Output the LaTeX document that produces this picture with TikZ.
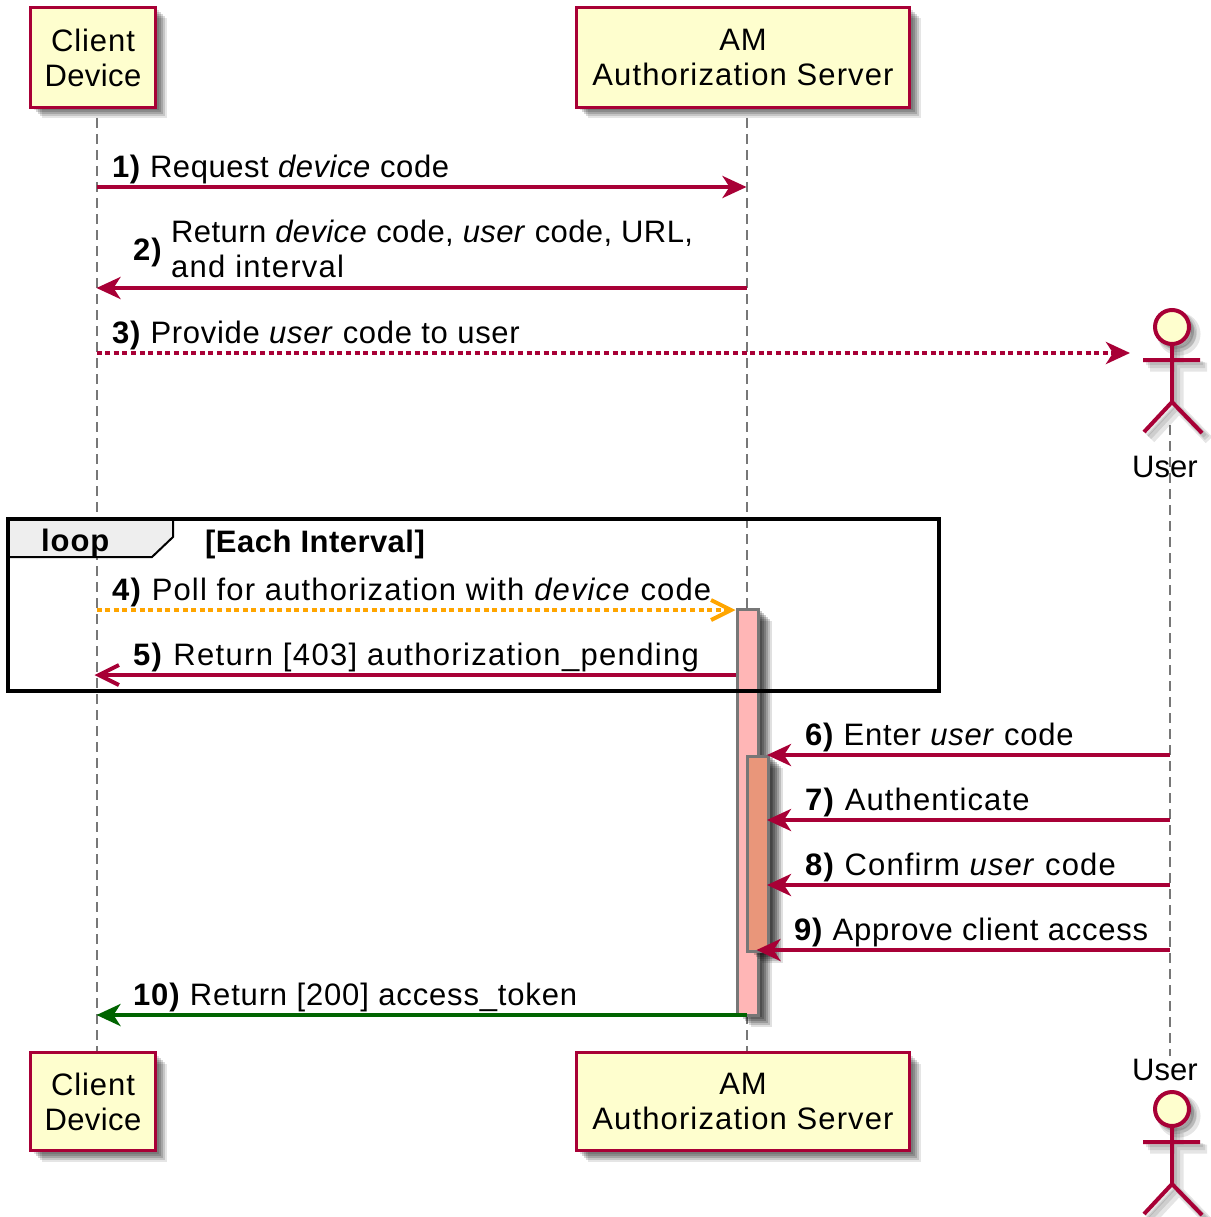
\documentclass[tikz,border=0pt]{standalone}
\usepackage{fontspec}
\setmainfont{Liberation Sans}[LetterSpace=3]
\usetikzlibrary{positioning,arrows.meta}
\definecolor{umlred}{HTML}{A80036}
\definecolor{umlfill}{HTML}{FEFECE}
\definecolor{umlgray}{HTML}{777777}
\definecolor{barpink}{HTML}{FFB6B6}
\definecolor{barsalmon}{HTML}{E9967A}
\definecolor{framegray}{HTML}{EEEEEE}
\definecolor{pollorange}{HTML}{FFA500}
\definecolor{tokengreen}{HTML}{006400}
\newcommand{\ls}[1]{\addfontfeature{LetterSpace=#1}}
% stacked rectangles give the soft shadows
\newcommand{\softshadow}[4]{
  \foreach \s/\o in {11/.1,9/.14,7/.16,5/.16,3/.12} {
    \fill[black,opacity=\o] (#1+\s,#2+\s) rectangle (#3+\s,#4+\s);
  }
}
\newcommand{\barshadow}[4]{
  \foreach \s/\o in {14/.12,12/.16,10/.18,8/.2,6/.2,4/.2} {
    \fill[black,opacity=\o] (#1+\s,#2+\s-2) rectangle (#3+\s,#4+\s-2);
  }
}
\tikzset{
  party/.style={draw=umlred,fill=umlfill,line width=3pt,inner sep=0pt,align=center,
    font=\fontsize{31}{35}\selectfont},
  lifeline/.style={draw=umlgray,line width=2pt,dash pattern=on 10pt off 6pt},
  bar/.style={draw=umlgray,line width=3pt,minimum width=21pt,inner sep=0pt},
  msg/.style={draw=umlred,line width=4pt,-{Stealth[length=24pt,width=22pt,inset=7pt]}},
  openmsg/.style={line width=4pt,-{Straight Barb[length=20pt,width=20pt,line width=4pt]}},
  dots/.style={line width=4.5pt,dash pattern=on 5pt off 3.6pt},
  msgtext/.style={anchor=base west,inner sep=0pt,font=\fontsize{31}{35}\selectfont\ls{#1}},
  msgtext/.default=3,
  actorfig/.pic={
    \draw[pic actions] (0,0) circle (17);
    \draw[pic actions,fill=none] (0,17) -- (0,75) (-29,33) -- (28,33)
      (-28,105) -- (0,75) -- (30,106);
  }
}
\begin{document}
\begin{tikzpicture}[x=1pt,y=-1pt]
  \useasboundingbox (0,0) rectangle (1210,1217);
  % message heights on each lifeline
  \foreach \n/\y in {1/187,2/288,3/353,4/610,5/675,6/755,7/820,8/885,9/950,10/1015} {
    \coordinate (c\n) at (96.5,\y);
    \coordinate (s\n) at (746.5,\y);
    \coordinate (u\n) at (1170,\y);
  }
  % lifelines
  \coordinate (clientStart) at (96.5,118);
  \coordinate (clientEnd) at (96.5,1052);
  \coordinate (serverStart) at (746.5,118);
  \coordinate (serverEnd) at (746.5,1052);
  \coordinate (userStart) at (1170,425);
  \coordinate (userEnd) at (1170,1056);
  \draw[lifeline] (clientStart) -- (clientEnd);
  \draw[lifeline] (serverStart) -- (serverEnd);
  \draw[lifeline] (userStart) -- (userEnd);
  % participants
  \foreach \y/\h/\t in {57.5/100/Top,1101.5/98/Bot} {
    \softshadow{30.5}{\y-\h/2}{155.5}{\y+\h/2}
    \softshadow{576.5}{\y-\h/2}{909.5}{\y+\h/2}
    \node[party,minimum width=125pt,minimum height=\h pt] (client\t) at (93,\y) {Client\\{\ls{1.4}Device}};
    \node[party,minimum width=333pt,minimum height=\h pt] (server\t) at (743,\y) {AM\\{\ls{3.65}Authorization Server}};
  }
  % user figures
  \foreach \s/\w in {7/9,5/6,3/4} {
    \pic[draw=black,fill=black,line width=\w pt,opacity=.1] at (1172+\s,327+\s) {actorfig};
    \pic[draw=black,fill=black,line width=\w pt,opacity=.1] at (1172+\s,1109+\s) {actorfig};
  }
  \pic[draw=umlred,fill=umlfill,line width=4pt] at (1172,327) {actorfig};
  \pic[draw=umlred,fill=umlfill,line width=4pt] at (1172,1109) {actorfig};
  \node[msgtext=0] (userTop) at (1132,477) {User};
  \node[msgtext=0] (userBot) at (1132,1080) {User};
  % activation bars
  \barshadow{737}{609}{758}{1015}
  \node[bar,fill=barpink,minimum height=406pt] (outerBar) at (747.5,812) {};
  \barshadow{747.5}{756}{768.5}{951}
  \node[bar,fill=barsalmon,minimum height=195pt] (innerBar) at (758,853.5) {};
  % loop frame
  \coordinate (frameA) at (8,519);
  \coordinate (frameB) at (939,691);
  \coordinate (tabA) at (173,519);
  \coordinate (tabB) at (173,537);
  \coordinate (tabC) at (152,557);
  \coordinate (tabD) at (8,557);
  \fill[framegray] (frameA) -- (tabA) -- (tabB) -- (tabC) -- (tabD) -- cycle;
  \draw[line width=2pt] (tabA) -- (tabB) -- (tabC) -- (tabD);
  \draw[line width=4pt] (frameA) rectangle (frameB);
  \node[msgtext] (loopName) at (41,551) {\textbf{loop}};
  \node[msgtext=1.5] (loopCond) at (205,552) {\textbf{[Each Interval]}};
  % messages
  \draw[msg] (c1) -- (s1);
  \draw[msg] (s2) -- (c2);
  \coordinate (actorGap) at (1130,353);
  \draw[msg,dots] (c3) -- (actorGap);
  \draw[openmsg,draw=pollorange,dots] (c4) -- (c4 -| outerBar.west);
  \draw[openmsg,draw=umlred,shorten >=-2pt] (c5 -| outerBar.west) -- (c5);
  \draw[msg,shorten >=-3pt] (u6) -- (u6 -| innerBar.east);
  \draw[msg,shorten >=-3pt] (u7) -- (u7 -| innerBar.east);
  \draw[msg,shorten >=-3pt] (u8) -- (u8 -| innerBar.east);
  \draw[msg,shorten >=-3pt] (u9) -- (u9 -| outerBar.east);
  \draw[msg,draw=tokengreen] (s10) -- (c10);
  % message labels
  \node[msgtext=1.8] (msgOne) at (112,178) {\textbf{1)} Request \textit{device} code};
  \node[msgtext] (msgTwoNum) at (133,260) {\textbf{2)}};
  \node[msgtext=1.3] (msgTwoA) at (171,242) {Return \textit{device} code, \textit{user} code, URL,};
  \node[msgtext=4.1] (msgTwoB) at (171,277) {and interval};
  \node[msgtext=2.3] (msgThree) at (112,343) {\textbf{3)} Provide \textit{user} code to user};
  \node[msgtext=3.7] (msgFour) at (112,600) {\textbf{4)} Poll for authorization with \textit{device} code};
  \node[msgtext=4.3] (msgFive) at (133,665) {\textbf{5)} Return [403] authorization\_pending};
  \node[msgtext=2.5] (msgSix) at (805,745) {\textbf{6)} Enter \textit{user} code};
  \node[msgtext=3.65] (msgSeven) at (805,810) {\textbf{7)} Authenticate};
  \node[msgtext=3.6] (msgEight) at (805,875) {\textbf{8)} Confirm \textit{user} code};
  \node[msgtext=2.5] (msgNine) at (794,940) {\textbf{9)} Approve client access};
  \node[msgtext=2.7] (msgTen) at (133,1005) {\textbf{10)} Return [200] access\_token};
\end{tikzpicture}
\end{document}
